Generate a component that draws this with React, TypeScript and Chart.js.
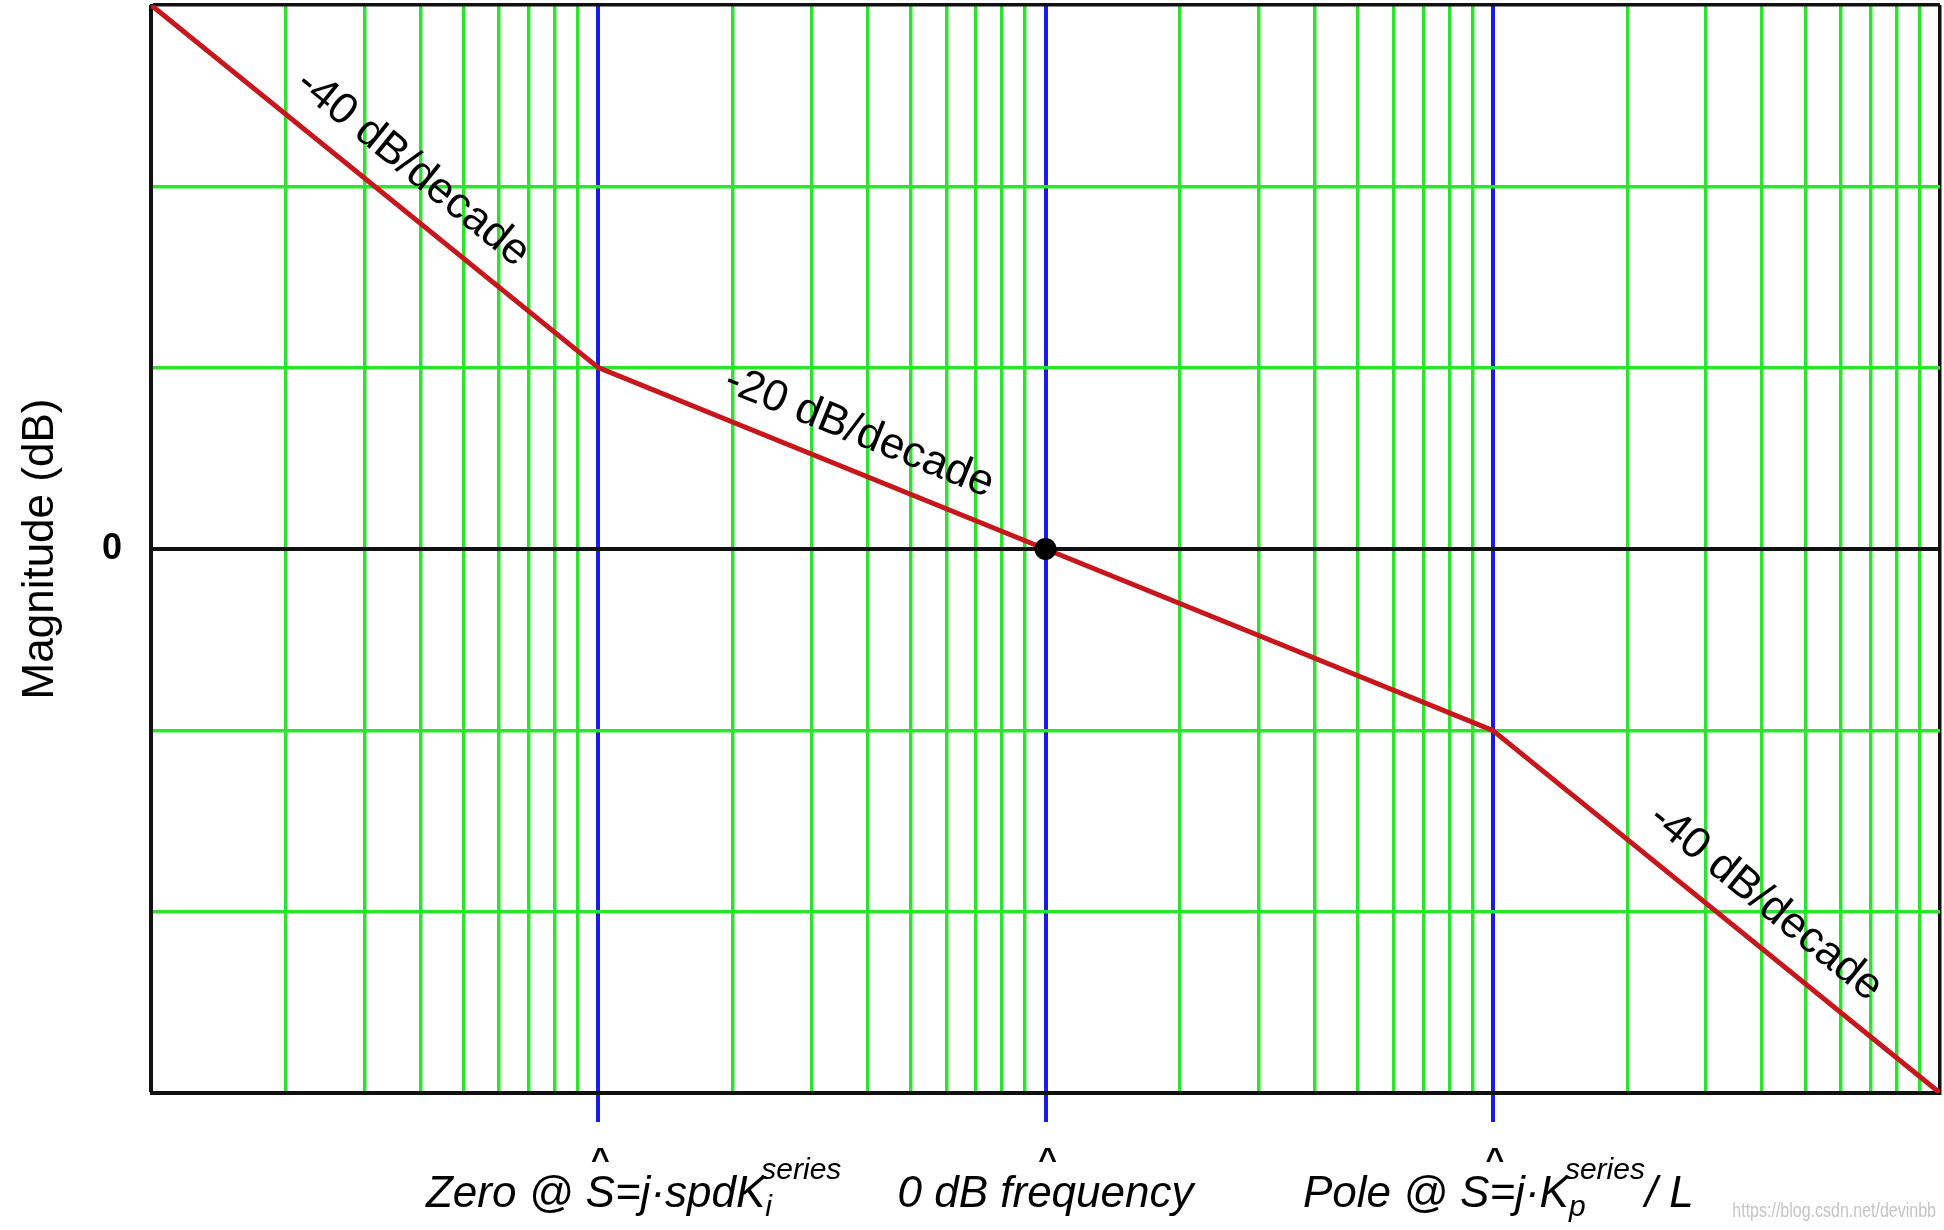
import React, { useEffect, useRef } from 'react';
import { Chart, registerables } from 'chart.js';

Chart.register(...registerables);

// ---- data (normalized frequency axis, 4 decades) ----
const cornerFreqs = [1, 10, 100, 1000, 10000];
const asymptoteDb = [60, 20, 0, -20, -60];
const crossoverFreq = [100];
const crossoverDb = [0];

const xGridTicks = [
  1, 2, 3, 4, 5, 6, 7, 8, 9,
  10, 20, 30, 40, 50, 60, 70, 80, 90,
  100, 200, 300, 400, 500, 600, 700, 800, 900,
  1000, 2000, 3000, 4000, 5000, 6000, 7000, 8000, 9000,
  10000,
];
const yGridTicks = [-60, -40, -20, 0, 20, 40, 60];
const yTickLabels = ['', '', '', '0', '', '', ''];

const markerFreqs = [10, 100, 1000];
const markerLabels = [
  [{ t: 'Zero @ ' }, { t: 'S', anchor: true }, { t: '=j·spdK' }, { sub: 'i', sup: 'series' }],
  [{ t: '0 dB frequency', anchor: true }],
  [{ t: 'Pole @ ' }, { t: 'S', anchor: true }, { t: '=j·K' }, { sub: 'p', sup: 'series' }, { t: '/ L', gap: -4 }],
];
const markerLabelShift = [2, 0, -18];

const slopeLabels = ['-40 dB/decade', '-20 dB/decade', '-40 dB/decade'];
const slopeLabelFreqs = [3.4, 35.6, 3600];
const slopeSegStart = [0, 1, 3];

const watermark = 'https://blog.csdn.net/devinbb';

// ---- styles ----
const FONT = '"Liberation Sans", Arial, Helvetica, sans-serif';
const GREEN = '#2fe22f';
const BLUE = '#1a1aee';
const RED = '#c8161d';
const BLACK = '#111111';

const isDecade = (v: number) => markerFreqs.includes(v);
const isEdgeX = (v: number) => v === xGridTicks[0] || v === xGridTicks[xGridTicks.length - 1];
const isEdgeY = (v: number) => v === yGridTicks[0] || v === yGridTicks[yGridTicks.length - 1];

const MAIN_SIZE = 44;
const SMALL_SIZE = 30;

function drawMarkerLabel(ctx: CanvasRenderingContext2D, parts: any[], bx: number, shift: number, baseline: number) {
  const mainFont = `italic ${MAIN_SIZE}px ${FONT}`;
  const smallFont = `italic ${SMALL_SIZE}px ${FONT}`;
  const widths = parts.map((p) => {
    if (p.t !== undefined) {
      ctx.font = mainFont;
      return (p.gap || 0) + ctx.measureText(p.t).width;
    }
    ctx.font = smallFont;
    return Math.max(ctx.measureText(p.sub).width, ctx.measureText(p.sup).width);
  });
  let acc = 0;
  let anchorCenter = 0;
  parts.forEach((p, i) => {
    if (p.anchor) anchorCenter = acc + widths[i] / 2;
    acc += widths[i];
  });
  ctx.save();
  ctx.translate(bx + shift - anchorCenter, baseline);
  ctx.fillStyle = '#000';
  ctx.textAlign = 'left';
  ctx.textBaseline = 'alphabetic';
  let x = 0;
  parts.forEach((p, i) => {
    if (p.t !== undefined) {
      ctx.font = mainFont;
      ctx.fillText(p.t, x + (p.gap || 0), 0);
    } else {
      ctx.font = smallFont;
      ctx.fillText(p.sup, x - 4, -28);
      ctx.fillText(p.sub, x, 9);
    }
    x += widths[i];
  });
  ctx.restore();

  // caret marker above the frequency
  ctx.save();
  ctx.font = `bold 32px ${FONT}`;
  ctx.fillStyle = '#000';
  ctx.textAlign = 'center';
  ctx.textBaseline = 'alphabetic';
  ctx.fillText('^', bx + 2, 1170);
  ctx.restore();
}

const annotationPlugin = {
  id: 'bodeAnnotations',
  afterDatasetsDraw(chart: any) {
    const ctx: CanvasRenderingContext2D = chart.ctx;
    const xs = chart.scales.x;
    const ys = chart.scales.y;

    slopeLabels.forEach((label, i) => {
      const k = slopeSegStart[i];
      const x1 = xs.getPixelForValue(cornerFreqs[k]);
      const y1 = ys.getPixelForValue(asymptoteDb[k]);
      const x2 = xs.getPixelForValue(cornerFreqs[k + 1]);
      const y2 = ys.getPixelForValue(asymptoteDb[k + 1]);
      const th = Math.atan2(y2 - y1, x2 - x1);
      const px = xs.getPixelForValue(slopeLabelFreqs[i]);
      const t = (px - x1) / (x2 - x1);
      const py = y1 + t * (y2 - y1);
      const d = 38;
      const cx = px + Math.sin(th) * d;
      const cy = py - Math.cos(th) * d;
      ctx.save();
      ctx.translate(cx, cy);
      ctx.rotate(th);
      ctx.font = `${MAIN_SIZE}px ${FONT}`;
      ctx.fillStyle = '#000';
      ctx.textAlign = 'center';
      ctx.textBaseline = 'middle';
      ctx.fillText(label, 0, 0);
      ctx.restore();
    });
  },
  afterDraw(chart: any) {
    const ctx: CanvasRenderingContext2D = chart.ctx;
    const xs = chart.scales.x;
    markerFreqs.forEach((f, i) => {
      drawMarkerLabel(ctx, markerLabels[i], xs.getPixelForValue(f), markerLabelShift[i], 1207);
    });
    ctx.save();
    ctx.font = `20px ${FONT}`;
    ctx.fillStyle = 'rgba(190,190,190,0.9)';
    ctx.textAlign = 'right';
    ctx.textBaseline = 'alphabetic';
    ctx.translate(1936, 1217);
    ctx.scale(0.8, 1);
    ctx.fillText(watermark, 0, 0);
    ctx.restore();
  },
};

export default function App() {
  const canvasRef = useRef<HTMLCanvasElement | null>(null);

  useEffect(() => {
    if (!canvasRef.current) return;
    const chart = new Chart(canvasRef.current, {
      type: 'scatter',
      data: {
        datasets: [
          {
            label: '0 dB crossover',
            data: crossoverFreq.map((x, i) => ({ x, y: crossoverDb[i] })),
            showLine: false,
            pointRadius: 11,
            pointHoverRadius: 11,
            pointBackgroundColor: '#000',
            pointBorderColor: '#000',
            pointBorderWidth: 0,
          },
          {
            label: 'Asymptotic magnitude',
            data: cornerFreqs.map((x, i) => ({ x, y: asymptoteDb[i] })),
            showLine: true,
            borderColor: RED,
            borderWidth: 5,
            pointRadius: 0,
            fill: false,
            tension: 0,
          },
        ],
      } as any,
      plugins: [annotationPlugin],
      options: {
        animation: false,
        responsive: false,
        devicePixelRatio: 1,
        layout: { autoPadding: false, padding: { left: 0, right: 4, top: 5, bottom: 0 } },
        plugins: {
          legend: { display: false },
          tooltip: { enabled: false },
        },
        events: [],
        scales: {
          x: {
            type: 'logarithmic',
            position: 'bottom',
            min: 1,
            max: 10000,
            afterBuildTicks: (s: any) => {
              s.ticks = xGridTicks.map((v) => ({ value: v }));
            },
            afterFit: (s: any) => {
              s.height = 137;
              s.paddingLeft = 0;
              s.paddingRight = 0;
              s.paddingTop = 0;
              s.paddingBottom = 0;
            },
            ticks: { display: false },
            grid: {
              color: (c: any) => {
                const v = c.tick?.value;
                if (isEdgeX(v)) return BLACK;
                if (isDecade(v)) return BLUE;
                return GREEN;
              },
              lineWidth: (c: any) => (isDecade(c.tick?.value) ? 4 : 3.5),
              drawTicks: true,
              tickLength: 29,
              tickWidth: 4,
              tickColor: (c: any) => (isDecade(c.tick?.value) ? BLUE : 'rgba(0,0,0,0)'),
            },
            border: { display: true, color: BLACK, width: 3 },
          },
          y: {
            type: 'linear',
            min: -60,
            max: 60,
            afterBuildTicks: (s: any) => {
              s.ticks = yGridTicks.map((v) => ({ value: v }));
            },
            afterFit: (s: any) => {
              s.width = 151;
              s.paddingLeft = 0;
              s.paddingRight = 0;
              s.paddingTop = 0;
              s.paddingBottom = 0;
            },
            ticks: {
              autoSkip: false,
              callback: (_v: any, i: number) => yTickLabels[i],
              font: { size: 36, weight: 'bold', family: FONT },
              color: '#000',
              padding: 29,
            },
            grid: {
              color: (c: any) => {
                const v = c.tick?.value;
                if (v === 0 || isEdgeY(v)) return BLACK;
                return GREEN;
              },
              lineWidth: (c: any) => (c.tick?.value === 0 ? 4 : 3.5),
              drawTicks: false,
            },
            border: { display: true, color: BLACK, width: 3 },
            title: {
              display: true,
              text: 'Magnitude (dB)',
              font: { size: 44, family: FONT },
              color: '#000',
              padding: { top: 14, bottom: 0 },
            },
          },
        },
      } as any,
    });
    return () => chart.destroy();
  }, []);

  return (
    <div style={{ position: 'fixed', left: 0, top: 0, width: 1944, height: 1230, background: '#fff' }}>
      <canvas ref={canvasRef} width={1944} height={1230} style={{ display: 'block', width: 1944, height: 1230 }} />
    </div>
  );
}
